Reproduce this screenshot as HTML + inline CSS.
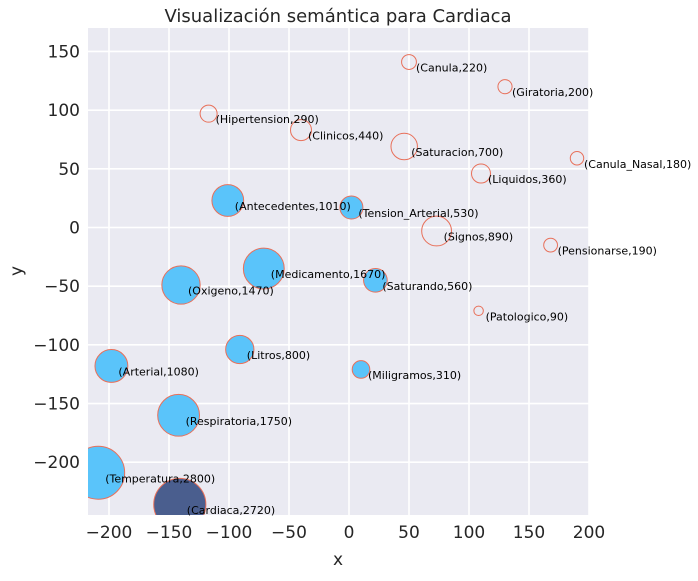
<!DOCTYPE html>
<html><head><meta charset="utf-8"><style>
body{margin:0;background:#fff;}
svg{font-family:"DejaVu Sans","Liberation Sans",sans-serif;}
</style></head><body>
<svg id="chart" width="698" height="576">
<defs><clipPath id="clip"><rect x="88" y="28" width="501" height="487"/></clipPath></defs>
<rect x="88" y="28" width="501" height="487" fill="#eaeaf2"/>
<g id="grid"></g>
<g id="marks" clip-path="url(#clip)"></g>
<g id="labels"></g>
<g id="ticks"></g>
<text x="338" y="22" text-anchor="middle" font-size="18" fill="#262626">Visualización semántica para Cardiaca</text>
<text x="338" y="565" text-anchor="middle" font-size="17" fill="#262626">x</text>
<text x="22" y="271" text-anchor="middle" font-size="17" fill="#262626" transform="rotate(-90 22 271)">y</text>
</svg>
<script>
const names=["Canula","Giratoria","Hipertension","Clinicos","Saturacion","Canula_Nasal","Liquidos","Antecedentes","Tension_Arterial","Signos","Pensionarse","Medicamento","Saturando","Oxigeno","Patologico","Litros","Miligramos","Arterial","Respiratoria","Temperatura","Cardiaca"];
const sizes=[220,200,290,440,700,180,360,1010,530,890,190,1670,560,1470,90,800,310,1080,1750,2800,2720];
const xs=[50,130,-117,-40,46,190,110,-101,2,73,168,-71,22,-140,108,-91,10,-198,-142,-209,-141];
const ys=[141,120,97,83,69,59,46,23,17,-3,-15,-35,-45,-49,-71,-104,-121,-118,-160,-209,-236];
const kinds=["empty","empty","empty","empty","empty","empty","empty","filled","filled","empty","empty","filled","filled","filled","empty","filled","filled","filled","filled","filled","target"];
const xTicks=[-200,-150,-100,-50,0,50,100,150,200];
const yTicks=[-200,-150,-100,-50,0,50,100,150];
const X0=-217.5,X1=200,Y0=-245,Y1=170,L=88,R=589,T=28,B=515;
const sx=v=>L+(v-X0)/(X1-X0)*(R-L);
const sy=v=>B-(v-Y0)/(Y1-Y0)*(B-T);
const NS="http://www.w3.org/2000/svg";
function mk(tag,attrs,parent){const e=document.createElementNS(NS,tag);for(const k in attrs)e.setAttribute(k,attrs[k]);parent.appendChild(e);return e;}
const grid=document.getElementById('grid'),ticks=document.getElementById('ticks'),marks=document.getElementById('marks'),labels=document.getElementById('labels');
xTicks.forEach(t=>{
 const l=mk('line',{x1:sx(t),x2:sx(t),y1:T,y2:B,stroke:'#fff','stroke-width':1.6},grid);
 
 
 const tx=mk('text',{x:sx(t),y:B+23,'text-anchor':'middle','font-size':17,fill:'#262626'},ticks);
 tx.textContent=String(t).replace('-','\u2212');
 
 
});
yTicks.forEach(t=>{
 const l=mk('line',{x1:L,x2:R,y1:sy(t),y2:sy(t),stroke:'#fff','stroke-width':1.6},grid);
 
 
 const tx=mk('text',{x:L-8,y:sy(t)+6,'text-anchor':'end','font-size':17,fill:'#262626'},ticks);
 tx.textContent=String(t).replace('-','\u2212');
 
 
});
names.forEach((n,i)=>{
 const r=0.5*Math.sqrt(sizes[i]);
 const fill=kinds[i]==='filled'?'#5ac4fa':kinds[i]==='target'?'#4a5e8e':'none';
 const c=mk('circle',{cx:sx(xs[i]),cy:sy(ys[i]),r:r,fill:fill,stroke:'#e8705a','stroke-width':1},marks);
 
 
 const t=mk('text',{x:sx(xs[i])+7,y:sy(ys[i])+9.5,'font-size':11,fill:'#000'},labels);
 t.textContent='('+n+','+sizes[i]+')';
 
 
});
</script>
</body></html>
